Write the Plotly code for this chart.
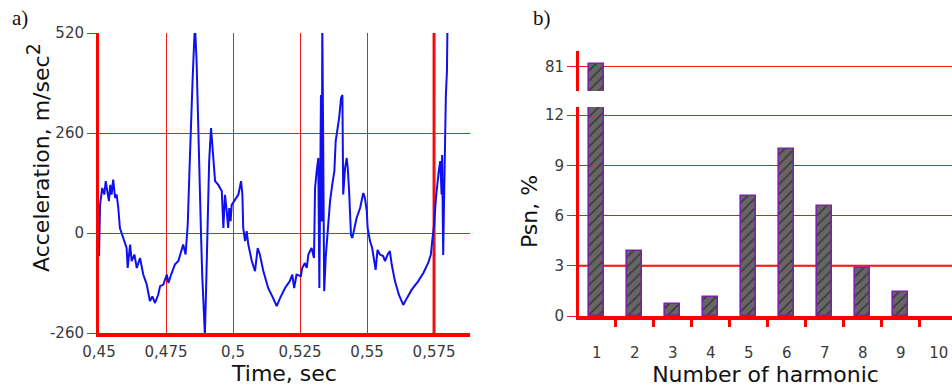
import plotly.graph_objects as go

# ---------------- data: panel a) ----------------
time_s = [0.4500, 0.4504, 0.4512, 0.4520, 0.4525, 0.4532, 0.4537, 0.4542, 0.4547, 0.4553,
          0.4560, 0.4566, 0.4572, 0.4578, 0.4591, 0.4603, 0.4607, 0.4616, 0.4622, 0.4632,
          0.4641, 0.4653, 0.4665, 0.4678, 0.4690, 0.4699, 0.4709, 0.4721, 0.4728, 0.4740,
          0.4753, 0.4759, 0.4769, 0.4783, 0.4796, 0.4806, 0.4814, 0.4823, 0.4831, 0.4837,
          0.4843, 0.4849, 0.4854, 0.4858, 0.4864, 0.4868, 0.4873, 0.4880, 0.4885, 0.4891,
          0.4895, 0.4899, 0.4905, 0.4911, 0.4918, 0.4923, 0.4926, 0.4933, 0.4945, 0.4958,
          0.4964, 0.4970, 0.4976, 0.4982, 0.4986, 0.4991, 0.4995, 0.5007, 0.5020, 0.5030,
          0.5035, 0.5038, 0.5045, 0.5051, 0.5057, 0.5070, 0.5082, 0.5092, 0.5100, 0.5113,
          0.5131, 0.5150, 0.5163, 0.5175, 0.5194, 0.5212, 0.5221, 0.5228, 0.5237, 0.5253,
          0.5258, 0.5268, 0.5275, 0.5281, 0.5293, 0.5302, 0.5306, 0.5312, 0.5318, 0.5322,
          0.5325, 0.5328, 0.5331, 0.5333, 0.5336, 0.5338, 0.5340, 0.5346, 0.5353, 0.5362,
          0.5370, 0.5378, 0.5383, 0.5390, 0.5396, 0.5403, 0.5408, 0.5411, 0.5418, 0.5424,
          0.5428, 0.5433, 0.5436, 0.5440, 0.5445, 0.5452, 0.5461, 0.5474, 0.5486, 0.5492,
          0.5499, 0.5502, 0.5511, 0.5519, 0.5527, 0.5532, 0.5539, 0.5548, 0.5560, 0.5567,
          0.5577, 0.5585, 0.5592, 0.5604, 0.5619, 0.5635, 0.5648, 0.5666, 0.5691, 0.5710,
          0.5728, 0.5738, 0.5743, 0.5750, 0.5757, 0.5763, 0.5768, 0.5773, 0.5778, 0.5780,
          0.5784, 0.5787, 0.5790, 0.5794, 0.5798, 0.5800]
accel = [-60, 74, 117, 100, 135, 105, 83, 125, 100, 139,
         91, 100, 65, 13, -13, -39, -91, -30, -73, -56,
         -91, -65, -108, -134, -177, -165, -182, -160, -138, -134,
         -108, -130, -108, -82, -73, -47, -30, -56, 22, 152,
         300, 395, 481, 540, 447, 325, 187, 13, -108, -229,
         -265, -160, 13, 187, 273, 230, 200, 135, 125, 109,
         13, 99, 60, 13, 65, 31, 73, 85, 100, 135,
         99, 13, -21, 5, -30, -73, -99, -39, -56, -99,
         -143, -170, -190, -170, -143, -125, -108, -143, -108, -112,
         -91, -78, -91, -56, -39, -65, 117, 161, 195, -143,
         187, 359, 30, 540, 273, -143, -151, -60, 13, 83,
         125, 161, 239, 273, 300, 351, 359, 100, 169, 195,
         169, 109, 57, -5, -13, 13, 39, 65, 104, 91,
         57, 13, -21, -39, -73, -96, -44, -56, -60, -73,
         -56, -47, -82, -125, -161, -187, -170, -148, -125, -104,
         -78, -56, -21, 21, 91, 143, 165, 187, 100, 203,
         -57, 74, 273, 359, 421, 540]

a_xticks = [0.45, 0.475, 0.5, 0.525, 0.55, 0.575]
a_xticktext = ["0,45", "0,475", "0,5", "0,525", "0,55", "0,575"]
a_yticks = [-260, 0, 260, 520]
a_yticktext = ["-260", "0", "260", "520"]

# ---------------- data: panel b) ----------------
harmonic = [1, 2, 3, 4, 5, 6, 7, 8, 9, 10]
psn = [81.3, 3.88, 0.70, 1.15, 7.18, 10.0, 6.59, 2.85, 1.45, None]
b_yticks_low = [0, 3, 6, 9, 12]
b_yticks_high = [81]

RED = "#ff0000"
GRID = "#f01818"
TICKFONT = dict(family="DejaVu Sans", size=15, color="#3a3a3a")
TITLEFONT = dict(family="DejaVu Sans", size=22, color="#111111")

W, H = 952, 392


def px_x(a, b):
    return [a / W, b / W]


def px_y(top, bottom):
    return [(H - bottom) / H, (H - top) / H]


fig = go.Figure()

fig.add_trace(go.Scatter(
    x=time_s, y=accel, mode="lines",
    line=dict(color="#1010ee", width=2),
    xaxis="x", yaxis="y", hoverinfo="skip",
))

bar_style = dict(
    color="#5e5e5e",
    line=dict(color="#7a22a8", width=1.6),
    pattern=dict(shape="/", fgcolor="#141414", bgcolor="#666666", size=7, solidity=0.25),
)
fig.add_trace(go.Bar(x=harmonic, y=psn, width=0.4, marker=bar_style,
                     xaxis="x2", yaxis="y2", hoverinfo="skip"))
fig.add_trace(go.Bar(x=harmonic, y=psn, width=0.4, marker=bar_style,
                     xaxis="x2", yaxis="y3", hoverinfo="skip"))

fig.update_layout(
    width=W, height=H,
    margin=dict(l=0, r=0, t=0, b=0, autoexpand=False),
    paper_bgcolor="white", plot_bgcolor="white",
    showlegend=False,
    bargap=0,
    xaxis=dict(
        domain=px_x(99, 470), range=[0.45, 0.5884], anchor="y", automargin=False,
        tickmode="array", tickvals=a_xticks, ticktext=a_xticktext,
        showgrid=True, gridcolor=GRID, gridwidth=1,
        showline=True, linecolor=RED, linewidth=4,
        ticks="", zeroline=False, tickfont=TICKFONT, ticklabelstandoff=2,
        title=dict(text="Time, sec", font=TITLEFONT, standoff=6),
    ),
    yaxis=dict(
        domain=px_y(33, 333), range=[-260, 520], anchor="x", automargin=False,
        tickmode="array", tickvals=a_yticks, ticktext=a_yticktext,
        showgrid=True, gridcolor=GRID, gridwidth=1,
        showline=True, linecolor=RED, linewidth=3,
        ticks="outside", ticklen=9, tickcolor=GRID, tickwidth=1,
        zeroline=False, tickfont=TICKFONT,
    ),
    xaxis2=dict(
        domain=px_x(579, 952), range=[0.53, 10.35], anchor="y2", automargin=False,
        tickmode="array", tickvals=harmonic,
        showgrid=False, showline=True, linecolor=RED, linewidth=4,
        ticks="", zeroline=False, tickfont=TICKFONT, ticklabelstandoff=20,
        minor=dict(tickmode="array", tickvals=[h + 0.5 for h in harmonic[:-1]],
                   ticks="outside", ticklen=7, tickwidth=3, tickcolor=RED, showgrid=False),
        title=dict(text="Number of harmonic", font=TITLEFONT, standoff=6),
    ),
    yaxis2=dict(
        domain=px_y(107, 316), range=[0, 12.48], anchor="x2", automargin=False,
        tickmode="array", tickvals=b_yticks_low,
        showgrid=True, gridcolor=GRID, gridwidth=1,
        showline=True, linecolor=RED, linewidth=3,
        ticks="outside", ticklen=9, tickcolor=GRID, tickwidth=1,
        zeroline=False, tickfont=TICKFONT,
        title=dict(text="Psn, %", font=TITLEFONT, standoff=2),
    ),
    yaxis3=dict(
        domain=px_y(51, 91), range=[77.8, 83.0], anchor="x2", automargin=False,
        tickmode="array", tickvals=b_yticks_high,
        showgrid=True, gridcolor=GRID, gridwidth=1,
        showline=True, linecolor=RED, linewidth=3,
        ticks="outside", ticklen=9, tickcolor=GRID, tickwidth=1,
        zeroline=False, tickfont=TICKFONT,
    ),
    shapes=[
        dict(type="line", xref="x", yref="y domain", x0=a_xticks[-1], x1=a_xticks[-1],
             y0=0, y1=1, line=dict(color=RED, width=3), layer="below"),
        dict(type="line", xref="x2 domain", yref="y2", x0=0, x1=1,
             y0=b_yticks_low[1], y1=b_yticks_low[1], line=dict(color=RED, width=2), layer="below"),
    ],
    annotations=[
        dict(text="a)", x=10 / W, y=1 - 4 / H, xref="paper", yref="paper",
             xanchor="left", yanchor="top", showarrow=False,
             font=dict(family="Liberation Serif", size=21, color="#111111")),
        dict(text="b)", x=531 / W, y=1 - 4 / H, xref="paper", yref="paper",
             xanchor="left", yanchor="top", showarrow=False,
             font=dict(family="Liberation Serif", size=21, color="#111111")),
        dict(text="Acceleration, m/sec<sup><span style='font-size:19px'>2</span></sup>",
             textangle=-90, x=38 / W, y=1 - 158 / H, xref="paper", yref="paper",
             xanchor="center", yanchor="middle", showarrow=False, font=TITLEFONT),
    ],
)

fig.write_html("out.html", post_script="document.body.style.margin='0';",
               config={"displayModeBar": False})
